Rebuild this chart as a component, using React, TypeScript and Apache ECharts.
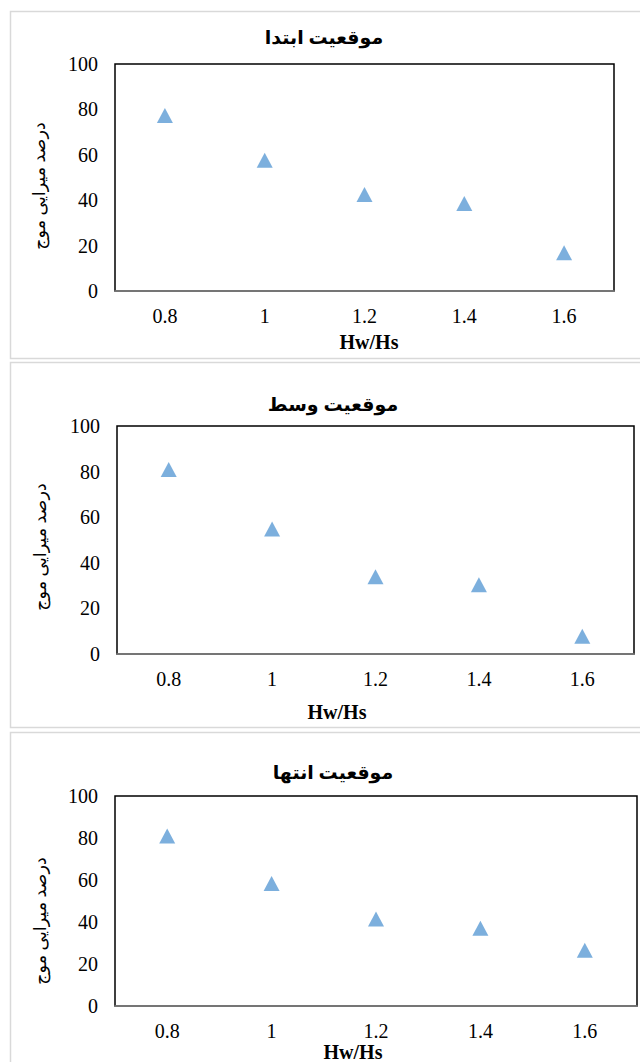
import React, { useEffect, useRef } from "react";
import * as echarts from "echarts";

const categories = ["0.8", "1", "1.2", "1.4", "1.6"];
const startValues = [77.3, 57.6, 42.5, 38.5, 16.8];
const middleValues = [80.9, 54.8, 33.9, 30.4, 7.8];
const endValues = [80.9, 58.3, 41.4, 37.0, 26.6];
const titles = ["موقعیت ابتدا", "موقعیت وسط", "موقعیت انتها"];
const yAxisTitle = "درصد میرایی موج";
const xAxisTitle = "Hw/Hs";
const yTicks = { min: 0, max: 100, interval: 20 };

const SERIF = "Liberation Serif";
const ARABIC = "Liberation Serif, DejaVu Sans, sans-serif";

const grids = [
  { left: 115, top: 64, width: 499, height: 227 },
  { left: 117, top: 426, width: 517, height: 228 },
  { left: 115, top: 796, width: 522, height: 210 },
];
const panels = [
  { y: 11, h: 347 },
  { y: 362, h: 365 },
  { y: 732, h: 400 },
];
const titlePos = [
  [324, 37],
  [333, 404],
  [333, 772],
];
const xNamePos = [
  [369, 342],
  [337, 712],
  [353, 1052],
];
const yNamePos = [
  [39, 186],
  [40, 547],
  [40, 921],
];

export default function App() {
  const ref = useRef<HTMLDivElement>(null);
  useEffect(() => {
    if (!ref.current) return;
    const chart = echarts.init(ref.current, null, { renderer: "svg" });
    const seriesData = [startValues, middleValues, endValues];
    const graphic: any[] = [];
    panels.forEach((p) => {
      graphic.push({
        type: "rect",
        shape: { x: 10.5, y: p.y + 0.5, width: 660, height: p.h },
        style: { fill: "#fff", stroke: "#d9d9d9", lineWidth: 1.5 },
        z: -10,
      });
    });
    titles.forEach((t, i) => {
      graphic.push({
        type: "text",
        x: titlePos[i][0],
        y: titlePos[i][1],
        style: {
          text: t,
          fontSize: 19,
          fontWeight: "bold",
          fontFamily: ARABIC,
          fill: "#000",
          textAlign: "center",
          textVerticalAlign: "middle",
        },
      });
      graphic.push({
        type: "text",
        x: xNamePos[i][0],
        y: xNamePos[i][1],
        style: {
          text: xAxisTitle,
          fontSize: 20,
          fontWeight: "bold",
          fontFamily: SERIF,
          fill: "#000",
          textAlign: "center",
          textVerticalAlign: "middle",
        },
      });
      graphic.push({
        type: "text",
        x: yNamePos[i][0],
        y: yNamePos[i][1],
        rotation: Math.PI / 2,
        style: {
          text: yAxisTitle,
          fontSize: 17.5,
          fontFamily: ARABIC,
          fill: "#000",
          textAlign: "center",
          textVerticalAlign: "middle",
        },
      });
    });

    const labelStyle = {
      color: "#000",
      fontFamily: SERIF,
      fontSize: 20,
      fontWeight: "normal",
      fontStyle: "normal",
    };

    chart.setOption({
      animation: false,
      backgroundColor: "#fff",
      textStyle: { fontFamily: SERIF },
      grid: grids.map((g) => ({
        ...g,
        show: true,
        borderColor: "#000",
        borderWidth: 1.5,
        backgroundColor: "transparent",
        containLabel: false,
      })),
      xAxis: grids.map((_, i) => ({
        type: "category",
        gridIndex: i,
        data: categories.map((c) => ({ value: c, textStyle: labelStyle })),
        boundaryGap: true,
        axisLine: { show: true, lineStyle: { color: "#888", width: 1.5 } },
        axisTick: { show: false },
        splitLine: { show: false },
        axisLabel: { ...labelStyle, margin: 15 },
      })),
      yAxis: grids.map((_, i) => ({
        type: "value",
        gridIndex: i,
        min: yTicks.min,
        max: yTicks.max,
        interval: yTicks.interval,
        axisLine: { show: false },
        axisTick: { show: false },
        splitLine: { show: false },
        axisLabel: { ...labelStyle, margin: 17 },
      })),
      series: seriesData.map((d, i) => ({
        type: "scatter",
        xAxisIndex: i,
        yAxisIndex: i,
        data: d,
        symbol: "triangle",
        symbolSize: [16, 15],
        itemStyle: { color: "#5b9bd5" },
      })),
      graphic,
    });
    return () => chart.dispose();
  }, []);
  return (
    <div
      ref={ref}
      style={{ position: "absolute", left: 0, top: 0, width: 640, height: 1062 }}
    />
  );
}
